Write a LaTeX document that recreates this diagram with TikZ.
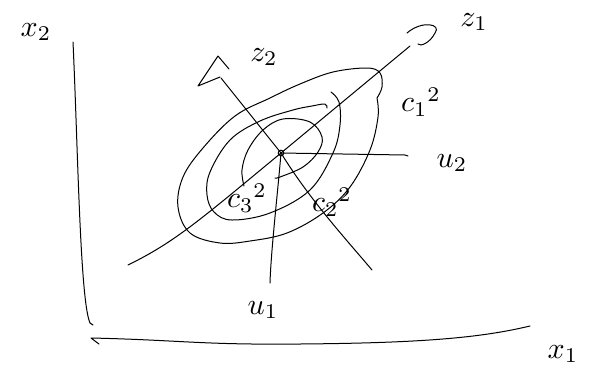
\documentclass[tikz,border=0pt]{standalone}
\tikzset{
  pen/.style={line width=1pt, line cap=round, line join=round, black},
  lbl/.style={scale=3, inner sep=0pt}
}
\begin{document}
\begin{tikzpicture}[x=1pt,y=-1pt]
\useasboundingbox (0,0) rectangle (605,373);
% named points
\coordinate (O) at (281,153);
\coordinate (yTop) at (73,42);
\coordinate (yBot) at (90,323);
\coordinate (xL) at (91,338);
\coordinate (xR) at (530,326);
\coordinate (z1a) at (128,265);
\coordinate (z1b) at (410,46);
\coordinate (z2a) at (372,270);
\coordinate (z2b) at (221,78);
\coordinate (u1b) at (270,283);
\coordinate (u2b) at (408,156);
% axes
\draw[pen] (yTop) .. controls (78,150) and (80,300) .. (yBot) -- ++(3,2);
\draw[pen] (99,344) -- (xL) .. controls (180,340) and (200,345) .. (300,344) .. controls (420,343) and (480,338) .. (xR);
% z1 axis
\draw[pen] (z1a) .. controls (175,242) and (200,220) .. (O) -- (z1b);
\draw[pen] (407,33) .. controls (422,20) and (442,24) .. (435,33) .. controls (430,43) and (420,47) .. (418,44);
% z2 axis
\draw[pen] (z2a) .. controls (345,238) and (310,200) .. (O) -- (z2b);
\draw[pen] (229,69) -- (218,56) -- (198,86) -- (220,77);
% u1, u2
\draw[pen] (O) .. controls (278,190) and (271,250) .. (u1b);
\draw[pen] (O) -- (405,155) -- (u2b);
\draw[pen] (O) circle (2.8);
% contours
\draw[pen] plot[smooth, tension=0.6] coordinates {(244,186) (242,170) (248,150) (263,130) (283,119) (310,122) (322,137) (318,152) (303,167) (280,177) (275,178)};
\draw[pen] plot[smooth, tension=0.6] coordinates {(327,108) (325,104) (312,106) (293,110) (260,121) (230,140) (210,172) (207,195) (214,212) (232,220) (270,213) (310,190) (333,153) (340,125) (339,102) (331,92)};
\draw[pen] plot[smooth, tension=0.6] coordinates {(377,98) (378,117) (370,150) (350,187) (323,213) (287,233) (250,241) (220,243) (190,233) (178,207) (183,177) (203,148) (235,116) (270,98) (300,84) (333,72) (367,68) (380,73) (382,87) (377,98)};
% labels
\node[lbl] (lx2) at (36,32) {$x_2$};
\node[lbl] (lx1) at (563,354) {$x_1$};
\node[lbl] (lz1) at (474,22) {$z_1$};
\node[lbl] (lz2) at (264,57) {$z_2$};
\node[lbl] (lu2) at (452,163) {$u_2$};
\node[lbl] (lu1) at (263,310) {$u_1$};
\node[lbl] (lc1) at (421,102) {$c_1{}^2$};
\node[lbl] (lc2) at (332,202) {$c_2{}^2$};
\node[lbl] (lc3) at (247,198) {$c_3{}^2$};
\end{tikzpicture}
\end{document}
